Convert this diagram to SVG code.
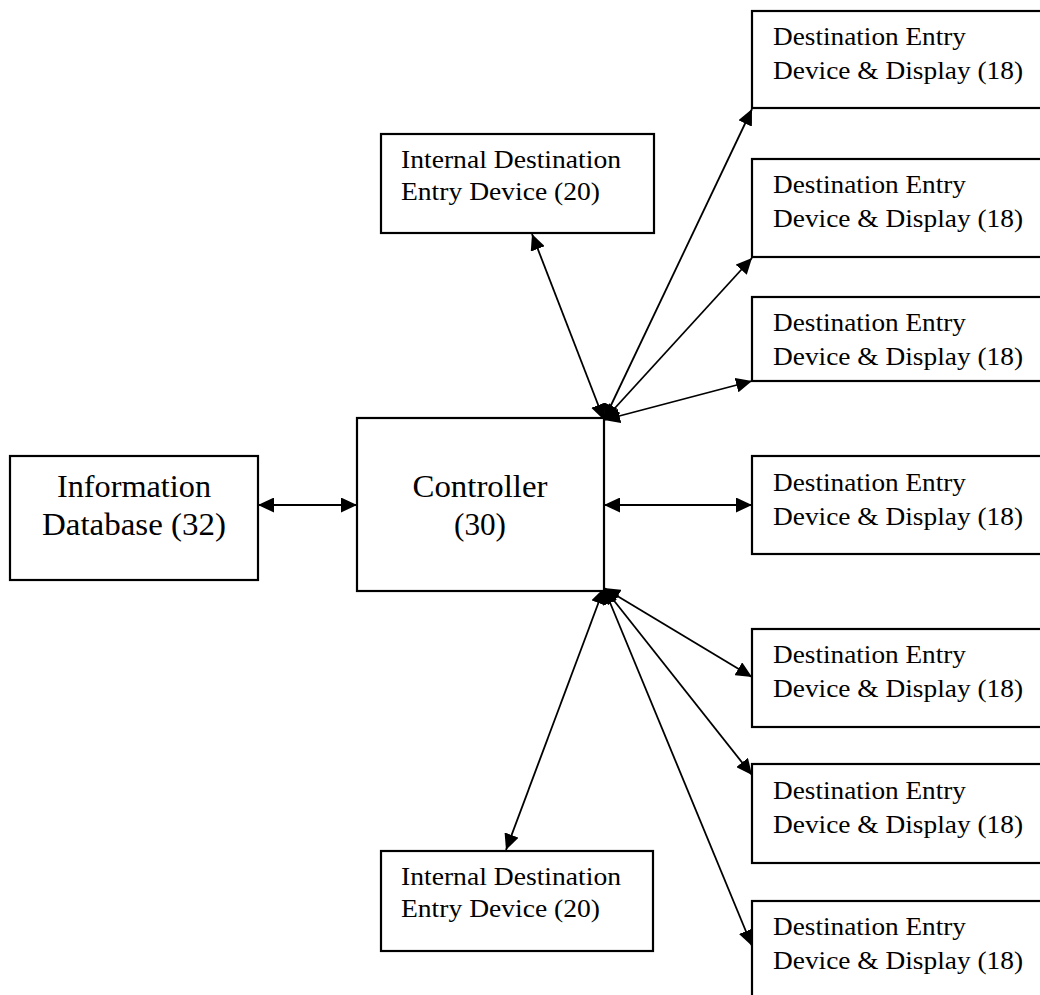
<svg xmlns="http://www.w3.org/2000/svg" width="1040" height="995" viewBox="0 0 1040 995">
<style>
.box{fill:#fff;stroke:#000;stroke-width:2.2}
.t{font-family:"Liberation Serif","Times New Roman",serif;font-size:25px;fill:#000}
.tb{font-family:"Liberation Serif","Times New Roman",serif;font-size:32px;fill:#000}
.c{stroke:#000;stroke-width:2.2;fill:none;marker-start:url(#ah);marker-end:url(#ah)}
.d{stroke:#000;stroke-width:1.8;fill:none;marker-start:url(#ah);marker-end:url(#ah)}
</style>
<defs>
<marker id="ah" viewBox="0 0 16 15" refX="16" refY="7.5" markerWidth="16" markerHeight="15" markerUnits="userSpaceOnUse" orient="auto-start-reverse">
<path d="M0,0 L16,7.5 L0,15 z" fill="#000"/>
</marker>
</defs>
<rect width="1040" height="995" fill="#fff"/>
<g id="connectors">
<line class="c" x1="258" y1="505" x2="357" y2="505"/>
<line class="c" x1="604" y1="505" x2="752" y2="505"/>
<line class="d" x1="604" y1="420" x2="752" y2="109"/>
<line class="d" x1="604" y1="420" x2="752" y2="258"/>
<line class="d" x1="604" y1="420" x2="752" y2="381"/>
<line class="d" x1="604" y1="420" x2="532" y2="234"/>
<line class="d" x1="604" y1="588" x2="752" y2="677"/>
<line class="d" x1="604" y1="588" x2="752" y2="775"/>
<line class="d" x1="604" y1="588" x2="752" y2="946"/>
<line class="d" x1="604" y1="588" x2="506" y2="850"/>
</g>
<g id="info-db">
<rect class="box" x="10" y="456" width="248" height="124"/>
<text class="tb" x="134" y="497" text-anchor="middle" textLength="154" lengthAdjust="spacingAndGlyphs">Information</text>
<text class="tb" x="134" y="535" text-anchor="middle" textLength="184" lengthAdjust="spacingAndGlyphs">Database (32)</text>
</g>
<g id="controller">
<rect class="box" x="357" y="418" width="247" height="173"/>
<text class="tb" x="480" y="497" text-anchor="middle" textLength="135" lengthAdjust="spacingAndGlyphs">Controller</text>
<text class="tb" x="480" y="535" text-anchor="middle" textLength="52" lengthAdjust="spacingAndGlyphs">(30)</text>
</g>
<g id="internal-top">
<rect class="box" x="381" y="134" width="273" height="99"/>
<text class="t" x="401" y="168" textLength="220" lengthAdjust="spacingAndGlyphs">Internal Destination</text>
<text class="t" x="401" y="200" textLength="199" lengthAdjust="spacingAndGlyphs">Entry Device (20)</text>
</g>
<g id="internal-bottom">
<rect class="box" x="381" y="851" width="272" height="100"/>
<text class="t" x="401" y="885" textLength="220" lengthAdjust="spacingAndGlyphs">Internal Destination</text>
<text class="t" x="401" y="917" textLength="199" lengthAdjust="spacingAndGlyphs">Entry Device (20)</text>
</g>
<g id="dest-1">
<rect class="box" x="752" y="11" width="300" height="97"/>
<text class="t" x="773" y="45" textLength="193" lengthAdjust="spacingAndGlyphs">Destination Entry</text>
<text class="t" x="773" y="79" textLength="250" lengthAdjust="spacingAndGlyphs">Device &amp; Display (18)</text>
</g>
<g id="dest-2">
<rect class="box" x="752" y="159" width="300" height="98"/>
<text class="t" x="773" y="193" textLength="193" lengthAdjust="spacingAndGlyphs">Destination Entry</text>
<text class="t" x="773" y="227" textLength="250" lengthAdjust="spacingAndGlyphs">Device &amp; Display (18)</text>
</g>
<g id="dest-3">
<rect class="box" x="752" y="297" width="300" height="84"/>
<text class="t" x="773" y="331" textLength="193" lengthAdjust="spacingAndGlyphs">Destination Entry</text>
<text class="t" x="773" y="365" textLength="250" lengthAdjust="spacingAndGlyphs">Device &amp; Display (18)</text>
</g>
<g id="dest-4">
<rect class="box" x="752" y="456" width="300" height="98"/>
<text class="t" x="773" y="491" textLength="193" lengthAdjust="spacingAndGlyphs">Destination Entry</text>
<text class="t" x="773" y="525" textLength="250" lengthAdjust="spacingAndGlyphs">Device &amp; Display (18)</text>
</g>
<g id="dest-5">
<rect class="box" x="752" y="629" width="300" height="98"/>
<text class="t" x="773" y="663" textLength="193" lengthAdjust="spacingAndGlyphs">Destination Entry</text>
<text class="t" x="773" y="697" textLength="250" lengthAdjust="spacingAndGlyphs">Device &amp; Display (18)</text>
</g>
<g id="dest-6">
<rect class="box" x="752" y="764" width="300" height="99"/>
<text class="t" x="773" y="799" textLength="193" lengthAdjust="spacingAndGlyphs">Destination Entry</text>
<text class="t" x="773" y="833" textLength="250" lengthAdjust="spacingAndGlyphs">Device &amp; Display (18)</text>
</g>
<g id="dest-7">
<rect class="box" x="752" y="901" width="300" height="110"/>
<text class="t" x="773" y="935" textLength="193" lengthAdjust="spacingAndGlyphs">Destination Entry</text>
<text class="t" x="773" y="969" textLength="250" lengthAdjust="spacingAndGlyphs">Device &amp; Display (18)</text>
</g>
</svg>
